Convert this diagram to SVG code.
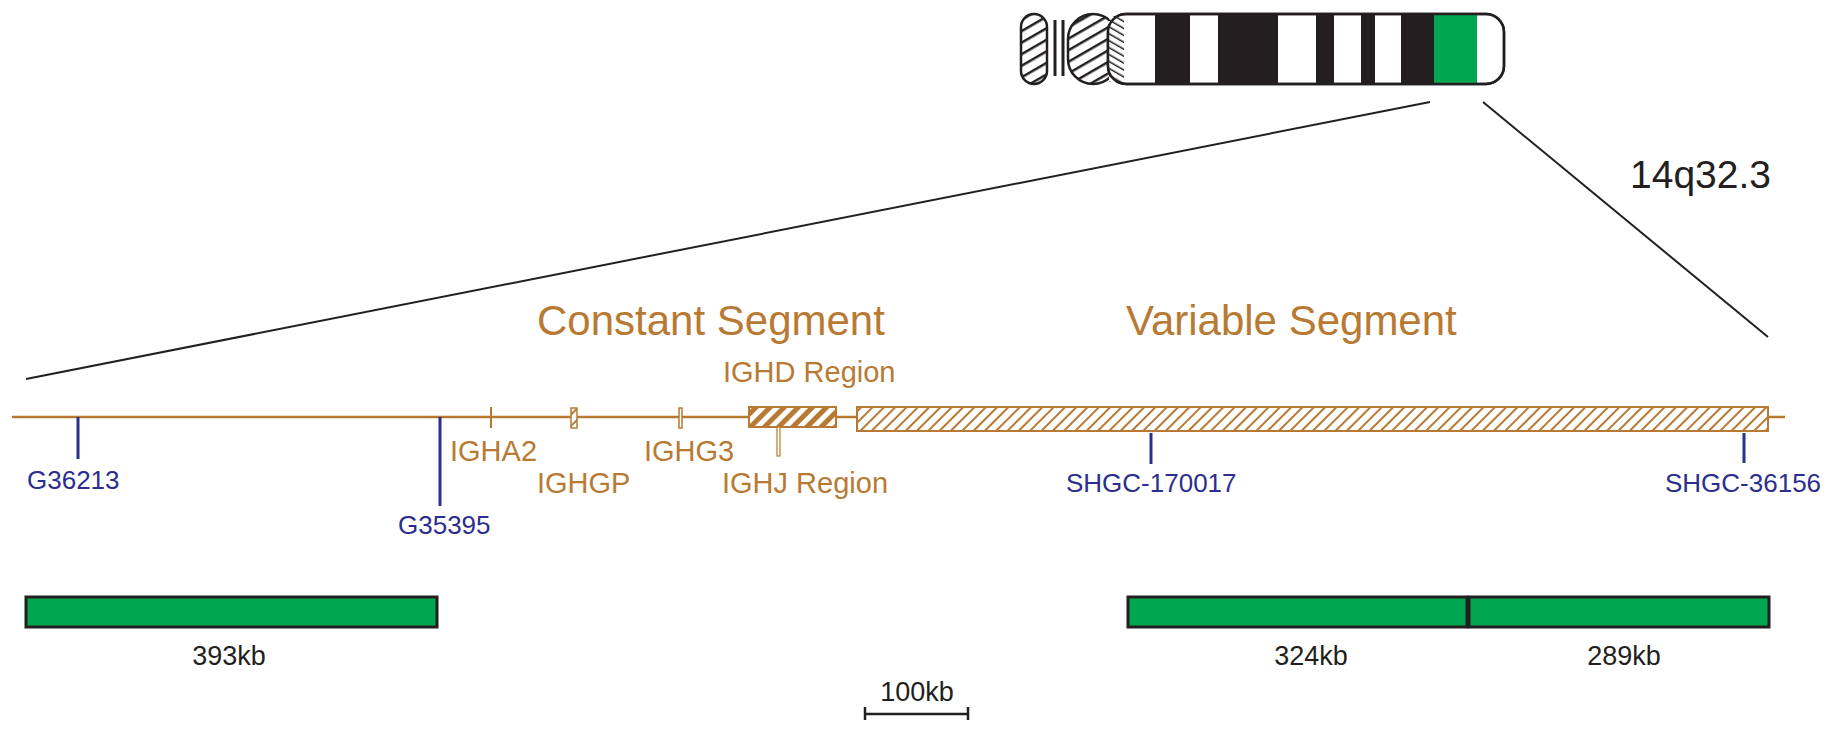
<svg xmlns="http://www.w3.org/2000/svg" width="1834" height="733" viewBox="0 0 1834 733">
<defs>
<pattern id="h1" width="8" height="8" patternUnits="userSpaceOnUse" patternTransform="rotate(45)"><rect width="8" height="8" fill="#fff"/><rect width="2" height="8" fill="#b87a33"/></pattern>
<pattern id="h2" width="10" height="10" patternUnits="userSpaceOnUse" patternTransform="rotate(45)"><rect width="10" height="10" fill="#fff"/><rect width="5" height="10" fill="#b87a33"/></pattern>
<pattern id="hk" width="10" height="10" patternUnits="userSpaceOnUse" patternTransform="rotate(60)"><rect width="10" height="10" fill="#fff"/><rect width="2.5" height="10" fill="#231f20"/></pattern>
<pattern id="hk2" width="6" height="6" patternUnits="userSpaceOnUse" patternTransform="rotate(-60)"><rect width="6" height="6" fill="#fff"/><rect width="1.5" height="6" fill="#231f20"/></pattern>
</defs>
<style>
.b{font-family:"Liberation Sans",Arial,sans-serif;fill:#b87a33}
.u{font-family:"Liberation Sans",Arial,sans-serif;fill:#2b2e8e;font-size:26px}
.k{font-family:"Liberation Sans",Arial,sans-serif;fill:#231f20;font-size:27px}
.bar{fill:#00a651;stroke:#231f20;stroke-width:3}
</style>
<g id="chromosome" stroke="#231f20" stroke-width="2.5" transform="translate(-7,0)">
<rect x="1028" y="14" width="26" height="70" rx="13" fill="url(#hk)"/>
<line x1="1062" y1="20" x2="1062" y2="76" stroke-width="3"/>
<line x1="1070" y1="20" x2="1070" y2="76" stroke-width="3"/>
<rect x="1075" y="14" width="50" height="70" rx="25" fill="url(#hk)"/>
<rect x="1115" y="14" width="396" height="70" rx="18" fill="#fff"/>
<rect x="1116" y="16" width="15" height="66" fill="url(#hk2)" stroke="none"/>
<g stroke="none" fill="#231f20">
<rect x="1162" y="15" width="35" height="68"/>
<rect x="1225" y="15" width="60" height="68"/>
<rect x="1323" y="15" width="18" height="68"/>
<rect x="1368" y="15" width="14" height="68"/>
<rect x="1408" y="15" width="33" height="68"/>
<rect x="1441" y="15" width="43" height="68" fill="#00a651"/>
</g>
<rect x="1115" y="14" width="396" height="70" rx="18" fill="none"/>
</g>
<g id="connectors" stroke="#231f20" stroke-width="2">
<line x1="1430" y1="102" x2="26" y2="379"/>
<line x1="1483" y1="102" x2="1768" y2="337"/>
</g>
<text x="1630" y="188" font-family="Liberation Sans,Arial,sans-serif" font-size="39" fill="#231f20">14q32.3</text>
<g id="map">
<line x1="12" y1="417" x2="1785" y2="417" stroke="#b87a33" stroke-width="2.5"/>
<line x1="491" y1="407" x2="491" y2="428" stroke="#b87a33" stroke-width="2"/>
<rect x="571" y="408" width="6" height="20" fill="url(#h1)" stroke="#b87a33" stroke-width="1.5"/>
<rect x="679" y="408" width="3" height="20" fill="#fff" stroke="#b87a33" stroke-width="1.5"/>
<rect x="749" y="407" width="87" height="20" fill="url(#h2)" stroke="#b87a33" stroke-width="2"/>
<rect x="777" y="427" width="3" height="29" fill="#fff" stroke="#b87a33" stroke-width="1.2"/>
<rect x="857" y="407" width="911" height="24" fill="url(#h1)" stroke="#b87a33" stroke-width="2"/>
<g stroke="#2b2e8e" stroke-width="3">
<line x1="78" y1="417" x2="78" y2="459"/>
<line x1="440" y1="417" x2="440" y2="506"/>
<line x1="1151" y1="433" x2="1151" y2="464"/>
<line x1="1744" y1="433" x2="1744" y2="463"/>
</g>
<text class="b" x="537" y="335" font-size="42">Constant Segment</text>
<text class="b" x="1126" y="335" font-size="42">Variable Segment</text>
<text class="b" x="723" y="382" font-size="29">IGHD Region</text>
<text class="b" x="450" y="461" font-size="29">IGHA2</text>
<text class="b" x="537" y="493" font-size="29">IGHGP</text>
<text class="b" x="644" y="461" font-size="29">IGHG3</text>
<text class="b" x="722" y="493" font-size="29">IGHJ Region</text>
<text class="u" x="27" y="489">G36213</text>
<text class="u" x="398" y="534">G35395</text>
<text class="u" x="1066" y="492">SHGC-170017</text>
<text class="u" x="1665" y="492">SHGC-36156</text>
</g>
<g id="bars">
<rect class="bar" x="26" y="597" width="411" height="30"/>
<rect class="bar" x="1128" y="597" width="339" height="30"/>
<rect class="bar" x="1469" y="597" width="300" height="30"/>
<text class="k" x="229" y="665" text-anchor="middle">393kb</text>
<text class="k" x="1311" y="665" text-anchor="middle">324kb</text>
<text class="k" x="1624" y="665" text-anchor="middle">289kb</text>
</g>
<g id="scale" stroke="#231f20" stroke-width="2.5">
<line x1="865" y1="714" x2="968" y2="714"/>
<line x1="865" y1="707" x2="865" y2="720"/>
<line x1="968" y1="707" x2="968" y2="720"/>
</g>
<text class="k" x="917" y="701" text-anchor="middle">100kb</text>
</svg>
